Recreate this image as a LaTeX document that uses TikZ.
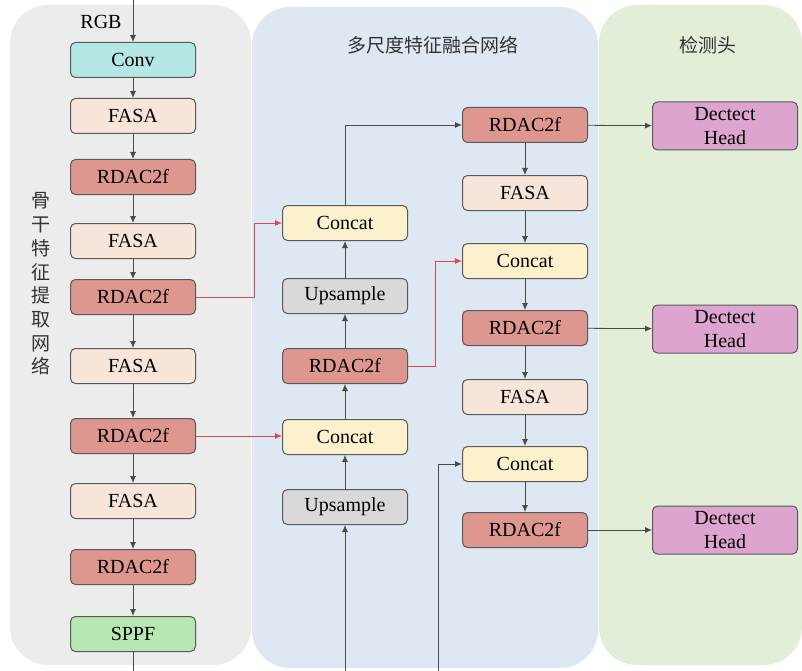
\documentclass[tikz,border=0pt]{standalone}
\usepackage{fontspec}
\setmainfont{Liberation Serif}
\newfontfamily\cjk{Noto Sans CJK SC}
\usepackage{xcolor}
\usetikzlibrary{positioning,calc,arrows.meta}

\definecolor{graybg}{HTML}{ECECEC}
\definecolor{bluebg}{HTML}{DEE8F3}
\definecolor{greenbg}{HTML}{E3EED9}
\definecolor{convcol}{HTML}{B5E7E5}
\definecolor{fasacol}{HTML}{F8E5DA}
\definecolor{rdaccol}{HTML}{DE978F}
\definecolor{catcol}{HTML}{FDF1CD}
\definecolor{upcol}{HTML}{D9D9D9}
\definecolor{sppfcol}{HTML}{B7E8B1}
\definecolor{headcol}{HTML}{DCA4CF}
\definecolor{boxline}{HTML}{555A60}
\definecolor{linecol}{HTML}{4A4A4A}
\definecolor{redline}{HTML}{E0474C}

\tikzset{
  blk/.style={draw=boxline, line width=1pt, rounded corners=5pt,
    minimum width=125pt, minimum height=35pt, inner sep=0pt,
    font=\fontsize{20}{22}\selectfont},
  conv/.style={blk, fill=convcol},
  fasa/.style={blk, fill=fasacol},
  rdac/.style={blk, fill=rdaccol},
  concat/.style={blk, fill=catcol},
  upsmp/.style={blk, fill=upcol},
  sppf/.style={blk, fill=sppfcol},
  head/.style={blk, fill=headcol, minimum width=145pt, minimum height=48pt,
    align=center, font=\fontsize{20}{24}\selectfont},
  flow/.style={draw=linecol, line width=0.8pt, -{Latex[length=7pt,width=6pt]}},
  skip/.style={draw=redline, line width=0.8pt, -{Latex[length=7pt,width=6pt]}},
  title/.style={font=\cjk\fontsize{19}{21}\selectfont, text=black!80},
}

\begin{document}
\begin{tikzpicture}[x=1pt, y=-1pt]
    \useasboundingbox (0,0) rectangle (802,671);
    % Panels
    \fill[graybg, rounded corners=38pt] (10,5) rectangle (251,665);
    \fill[bluebg, rounded corners=38pt] (252,7) rectangle (598,668);
    \fill[greenbg, rounded corners=38pt] (599,5) rectangle (802,665);

    % Titles
    \node[title] (ttlneck) at (433,45) {多尺度特征融合网络};
    \node[title] (ttlhead) at (708,45) {检测头};
    \node[title, align=center, font=\cjk\fontsize{19}{23.7}\selectfont] (ttlback) at (41,284)
      {骨\\干\\特\\征\\提\\取\\网\\络};

    % Backbone
    \node (rgbtxt) at (101,22) {\fontsize{20}{22}\selectfont RGB};
    \coordinate (rgbin) at (133,0);
    \node[conv] (conv) at (133,60) {Conv};
    \node[fasa] (fasaA) at (133,116) {FASA};
    \node[rdac] (rdacA) at (133,177) {RDAC2f};
    \node[fasa] (fasaB) at (133,241) {FASA};
    \node[rdac] (rdacB) at (133,297) {RDAC2f};
    \node[fasa] (fasaC) at (133,366) {FASA};
    \node[rdac] (rdacC) at (133,436) {RDAC2f};
    \node[fasa] (fasaD) at (133,501) {FASA};
    \node[rdac] (rdacD) at (133,567) {RDAC2f};
    \node[sppf] (sppf) at (133,634) {SPPF};
    \coordinate (sppfout) at (133,671);

    % Neck
    \node[concat] (catA) at (345,223) {Concat};
    \node[upsmp] (upA) at (345,296) {Upsample};
    \node[rdac] (rdacM) at (345,366) {RDAC2f};
    \node[concat] (catB) at (345,437) {Concat};
    \node[upsmp] (upB) at (345,507) {Upsample};
    \coordinate (neckin) at (345,671);

    \node[rdac] (rdacP) at (525,125) {RDAC2f};
    \node[fasa] (fasaP) at (525,193) {FASA};
    \node[concat] (catP) at (525,261) {Concat};
    \node[rdac] (rdacQ) at (525,328) {RDAC2f};
    \node[fasa] (fasaQ) at (525,397) {FASA};
    \node[concat] (catQ) at (525,464) {Concat};
    \node[rdac] (rdacR) at (525,530) {RDAC2f};
    \coordinate (catin) at (438,671);

    % Heads
    \node[head] (headA) at (725,126) {Dectect\\Head};
    \node[head] (headB) at (725,329) {Dectect\\Head};
    \node[head] (headC) at (725,530) {Dectect\\Head};

    % Connections
    \draw[flow] (rgbin) -- (conv);
    \foreach \a/\b in {conv/fasaA, fasaA/rdacA, rdacA/fasaB, fasaB/rdacB,
      rdacB/fasaC, fasaC/rdacC, rdacC/fasaD, fasaD/rdacD, rdacD/sppf}
      \draw[flow] (\a) -- (\b);
    \draw[draw=linecol, line width=0.8pt] (sppf) -- (sppfout);

    \draw[flow] (neckin) -- (upB);
    \foreach \a/\b in {upB/catB, catB/rdacM, rdacM/upA, upA/catA}
      \draw[flow] (\a) -- (\b);
    \draw[flow] (catA.north) |- (rdacP.west);
    \foreach \a/\b in {rdacP/fasaP, fasaP/catP, catP/rdacQ, rdacQ/fasaQ,
      fasaQ/catQ, catQ/rdacR}
      \draw[flow] (\a) -- (\b);
    \draw[flow] (catin) |- (catQ.west);

    \draw[skip] (rdacB.east) -- ++(58,0) |- (catA.west);
    \draw[skip] (rdacC.east) -- (catB.west |- rdacC.east);
    \draw[skip] (rdacM.east) -- ++(27,0) |- (catP.west);

    \draw[flow] (rdacP) -- (headA);
    \draw[flow] (rdacQ) -- (headB);
    \draw[flow] (rdacR) -- (headC);
\end{tikzpicture}
\end{document}
